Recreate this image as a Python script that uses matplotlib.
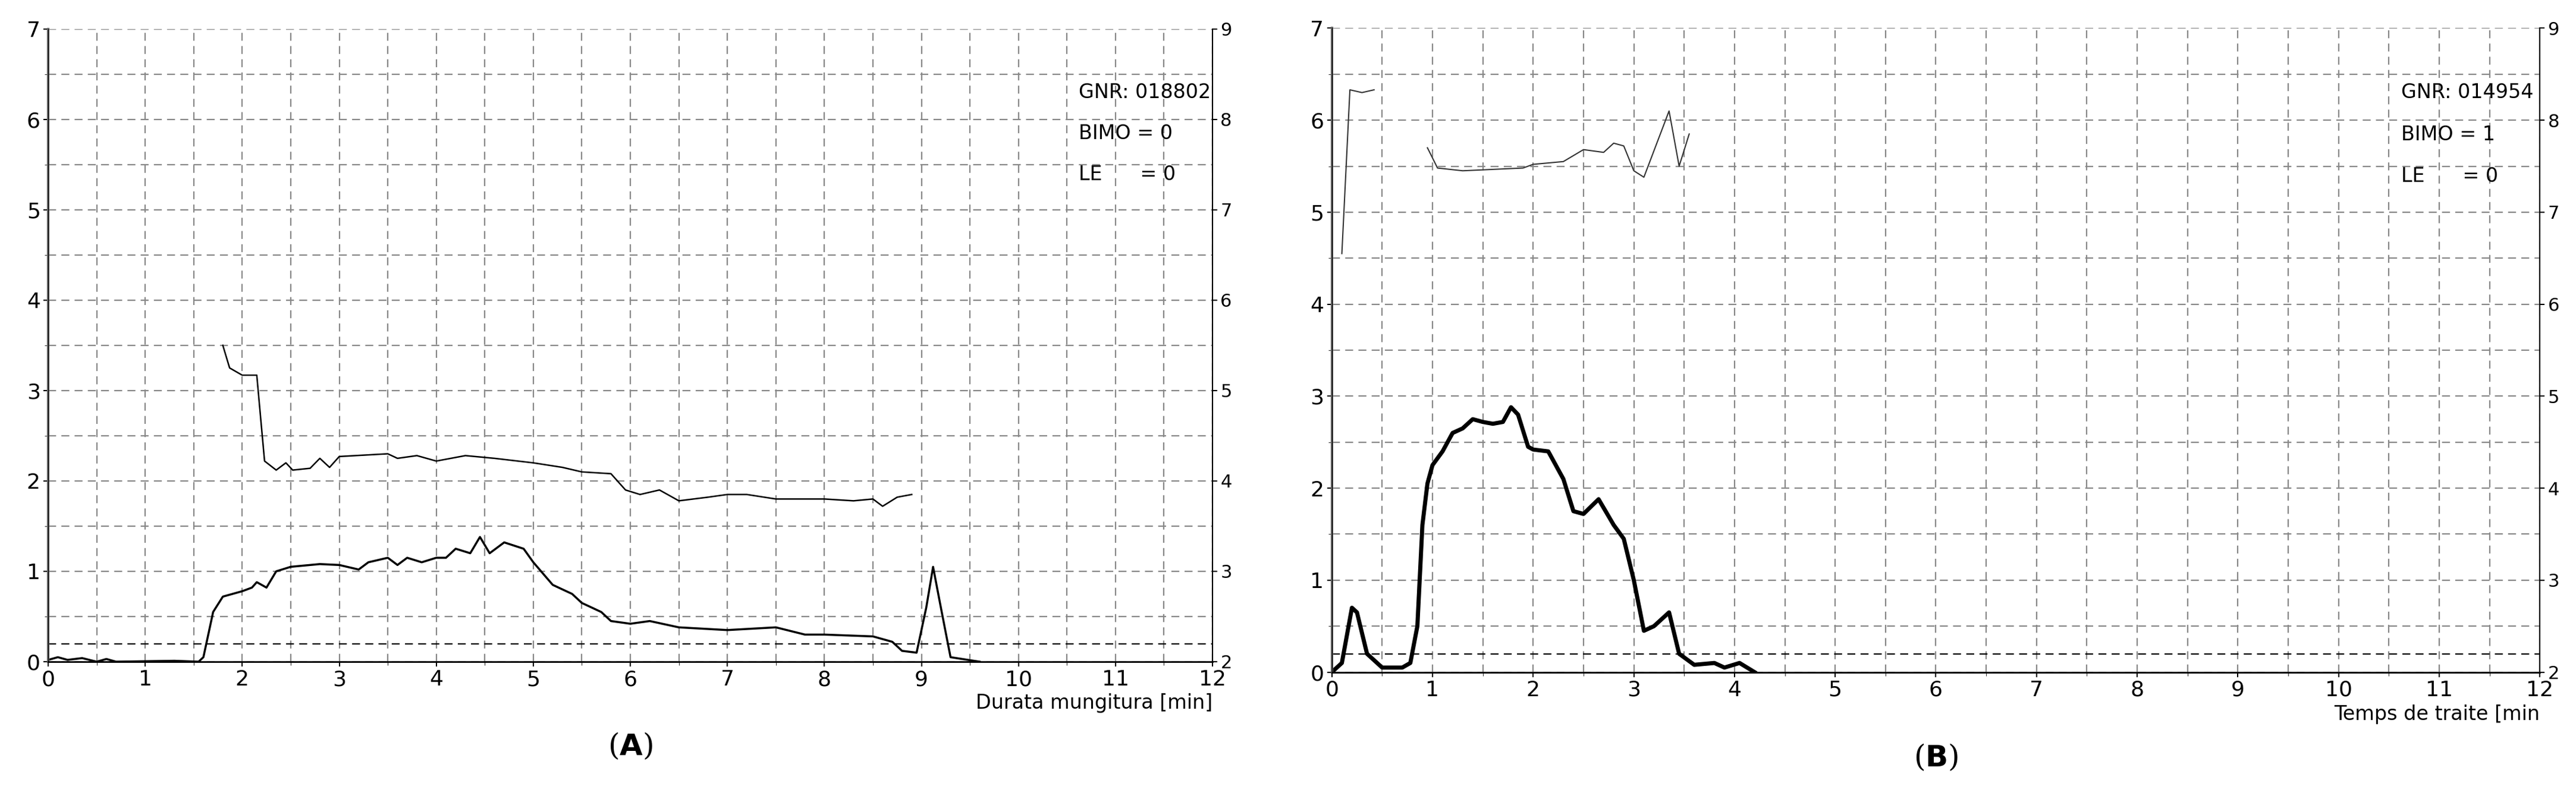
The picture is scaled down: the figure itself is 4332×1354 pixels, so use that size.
import matplotlib
matplotlib.use('Agg')
import matplotlib.pyplot as plt
import numpy as np

# panel A
a_flow_x = [0, 0.1, 0.2, 0.35, 0.5, 0.6, 0.7, 1.3, 1.55, 1.6, 1.7, 1.8, 2.0, 2.1, 2.15, 2.25, 2.35, 2.5, 2.8, 3.0,
            3.2, 3.3, 3.5, 3.6, 3.7, 3.85, 4.0, 4.1, 4.2, 4.35, 4.45, 4.55, 4.7, 4.9, 5.0, 5.2, 5.4, 5.5, 5.7, 5.8,
            6.0, 6.2, 6.5, 7.0, 7.5, 7.8, 8.0, 8.5, 8.7, 8.8, 8.95, 9.05, 9.12, 9.2, 9.3, 9.6]
a_flow_y = [0.02, 0.05, 0.02, 0.04, 0.0, 0.03, 0.0, 0.01, 0.0, 0.05, 0.55, 0.72, 0.78, 0.82, 0.88, 0.82, 1.0, 1.05, 1.08, 1.07,
            1.02, 1.1, 1.15, 1.07, 1.15, 1.1, 1.15, 1.15, 1.25, 1.2, 1.38, 1.2, 1.32, 1.25, 1.1, 0.85, 0.75, 0.65, 0.55, 0.45,
            0.42, 0.45, 0.38, 0.35, 0.38, 0.3, 0.3, 0.28, 0.22, 0.12, 0.1, 0.6, 1.05, 0.6, 0.05, 0.0]
a_cond_x = [1.8, 1.87, 2.0, 2.15, 2.23, 2.35, 2.45, 2.52, 2.7, 2.8, 2.9, 3.0, 3.5, 3.6, 3.8, 4.0, 4.3, 4.6, 5.0, 5.3,
            5.5, 5.8, 5.95, 6.1, 6.3, 6.5, 6.8, 7.0, 7.2, 7.5, 8.0, 8.3, 8.5, 8.6, 8.75, 8.9]
a_cond_y = [3.5, 3.25, 3.17, 3.17, 2.22, 2.12, 2.2, 2.12, 2.14, 2.25, 2.15, 2.27, 2.3, 2.25, 2.28, 2.22, 2.28, 2.25, 2.2, 2.15,
            2.1, 2.08, 1.9, 1.85, 1.9, 1.78, 1.82, 1.85, 1.85, 1.8, 1.8, 1.78, 1.8, 1.72, 1.82, 1.85]

# panel B
b_flow_x = [0, 0.1, 0.2, 0.25, 0.35, 0.5, 0.7, 0.78, 0.85, 0.9, 0.95, 1.0, 1.1, 1.2, 1.3, 1.4, 1.5, 1.6, 1.7, 1.78,
            1.85, 1.95, 2.0, 2.15, 2.3, 2.4, 2.5, 2.65, 2.8, 2.9, 3.0, 3.1, 3.2, 3.35, 3.45, 3.6, 3.8, 3.9, 4.05, 4.2]
b_flow_y = [0, 0.1, 0.7, 0.65, 0.2, 0.05, 0.05, 0.1, 0.5, 1.6, 2.05, 2.25, 2.4, 2.6, 2.65, 2.75, 2.72, 2.7, 2.72, 2.88,
            2.8, 2.45, 2.42, 2.4, 2.1, 1.75, 1.72, 1.88, 1.6, 1.45, 1.0, 0.45, 0.5, 0.65, 0.2, 0.08, 0.1, 0.05, 0.1, 0.0]
b_cond1_x = [0.1, 0.18, 0.3, 0.42]
b_cond1_y = [4.55, 6.33, 6.3, 6.33]
b_cond2_x = [0.95, 1.05, 1.3, 1.9, 2.0, 2.3, 2.5, 2.7, 2.8, 2.9, 3.0, 3.1, 3.35, 3.45, 3.55]
b_cond2_y = [5.7, 5.48, 5.45, 5.48, 5.52, 5.55, 5.68, 5.65, 5.75, 5.72, 5.45, 5.38, 6.1, 5.5, 5.85]

x_ticks = list(range(0, 13))
y_ticks = list(range(0, 8))
right_labels = [str(v + 2) for v in y_ticks]

fig = plt.figure(figsize=(43.32, 13.54), dpi=100)
axA = fig.add_axes([0.0187, 0.178, 0.452, 0.786])
axB = fig.add_axes([0.517, 0.165, 0.469, 0.80])

def Style(ax, xlabel, info, panel):
  ax.set_xlim(0, 12)
  ax.set_ylim(0, 7)
  ax.set_xticks(x_ticks)
  ax.set_yticks(y_ticks)
  ax.set_xticks(np.arange(0.5, 12, 1), minor=True)
  ax.set_yticks(np.arange(0.5, 7, 1), minor=True)
  ax.grid(True, which='both', ls=(0, (6, 4)), color='#888888', lw=1.6)
  ax.tick_params(labelsize=26, length=6, width=1.5, which='major')
  ax.tick_params(which='minor', length=4)
  ax.axhline(0.2, color='black', ls=(0, (6, 4)), lw=1.6)
  ax.spines['top'].set_visible(False)
  ax.spines['left'].set_linewidth(3)
  ax.spines['left'].set_color('#666666')
  ax.spines['bottom'].set_linewidth(2)
  ax2 = ax.twinx()
  ax2.set_ylim(0, 7)
  ax2.set_yticks(y_ticks)
  ax2.set_yticklabels(right_labels)
  ax2.tick_params(labelsize=22, length=6, width=1.5)
  ax2.spines['top'].set_visible(False)
  ax2.spines['right'].set_linewidth(1.5)
  ax.text(1.0, -0.05, xlabel, transform=ax.transAxes, ha='right', va='top', fontsize=24)
  ax.text(0.5, -0.11, '(' + r'$\mathbf{' + panel + '}$' + ')', transform=ax.transAxes,
          ha='center', va='top', fontsize=36, family='DejaVu Serif')
  for i, t in enumerate(info):
    ax.text(0.885, 0.9 - i * 0.065, t, transform=ax.transAxes, fontsize=24, va='center')

axA.plot(a_flow_x, a_flow_y, color='black', lw=2.5)
axA.plot(a_cond_x, a_cond_y, color='black', lw=1.8)
Style(axA, 'Durata mungitura [min]', ['GNR: 018802', 'BIMO = 0', 'LE      = 0'], 'A')

axB.plot(b_flow_x, b_flow_y, color='black', lw=5)
axB.plot(b_cond1_x, b_cond1_y, color='#333333', lw=1.5)
axB.plot(b_cond2_x, b_cond2_y, color='#333333', lw=1.5)
Style(axB, 'Temps de traite [min', ['GNR: 014954', 'BIMO = 1', 'LE      = 0'], 'B')

fig.savefig('out.png')
